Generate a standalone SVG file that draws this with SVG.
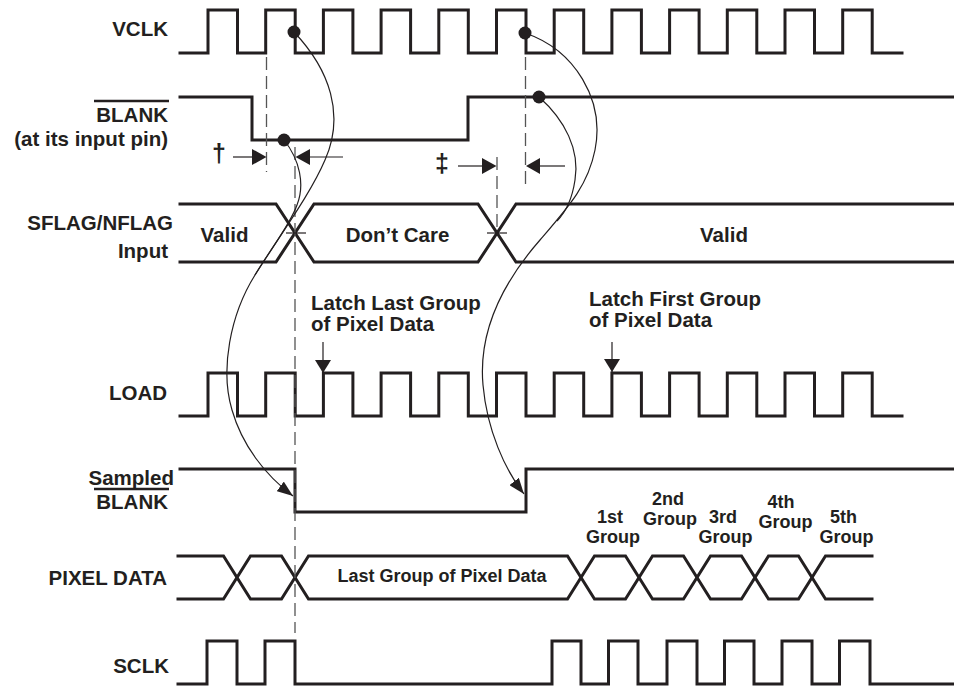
<svg xmlns="http://www.w3.org/2000/svg" xmlns:xlink="http://www.w3.org/1999/xlink" width="954" height="686" viewBox="0 0 954 686">
<style>
.sig{fill:none;stroke:#231f20;stroke-width:3;stroke-linejoin:miter;stroke-linecap:square}
.lbl{font-family:"Liberation Sans",Arial,sans-serif;font-weight:bold;font-size:20.5px;fill:#231f20}
.sm{font-size:18px}
.dg{font-size:25px}
.dash{fill:none;stroke:#555;stroke-width:1.3;stroke-dasharray:13 6}
.thin{fill:none;stroke:#231f20;stroke-width:1.2}
.dot{fill:#231f20}
.head{fill:#231f20;stroke:none}
</style>
<defs>
<path id="clk" d="M180,53 H208 V10 H237.5 V53 H265.7 V10 H295.2 V53 H323.4 V10 H352.9 V53 H381.1 V10 H410.6 V53 H438.8 V10 H468.3 V53 H496.5 V10 H526 V53 H554.2 V10 H583.7 V53 H611.9 V10 H641.4 V53 H669.6 V10 H699.1 V53 H727.3 V10 H756.8 V53 H785 V10 H814.5 V53 H842.7 V10 H872.2 V53 H902"/>
<marker id="ah" markerUnits="userSpaceOnUse" viewBox="0 0 16 12" refX="16" refY="6" markerWidth="16" markerHeight="12" orient="auto">
<path d="M0,0 L16,6 L0,12 z" fill="#231f20"/>
</marker>
<marker id="ah2" markerUnits="userSpaceOnUse" viewBox="0 0 13 16" refX="13" refY="8" markerWidth="13" markerHeight="16" orient="auto">
<path d="M0,0 L13,8 L0,16 z" fill="#231f20"/>
</marker>
</defs>

<g id="vclk">
<text class="lbl" x="168" y="36" text-anchor="end">VCLK</text>
<use xlink:href="#clk" class="sig"/>
</g>

<g id="blank">
<text class="lbl" x="168" y="122" text-anchor="end">BLANK</text>
<line x1="94" y1="101" x2="169" y2="101" stroke="#231f20" stroke-width="2.5"/>
<text class="lbl" x="168" y="146" text-anchor="end">(at its input pin)</text>
<path class="sig" d="M180,97 H252 V140 H468 V97 H954"/>
</g>

<g id="sflag">
<text class="lbl" x="173" y="230" text-anchor="end">SFLAG/NFLAG</text>
<text class="lbl" x="168" y="258" text-anchor="end">Input</text>
<path class="sig" d="M180,204 H276 L314,262 H478 L516,204 H954"/>
<path class="sig" d="M180,262 H276 L314,204 H478 L516,262 H954"/>
<text class="lbl" x="224.5" y="242" text-anchor="middle">Valid</text>
<text class="lbl" x="397.5" y="242" text-anchor="middle">Don’t Care</text>
<text class="lbl" x="724" y="242" text-anchor="middle">Valid</text>
</g>

<g id="load">
<text class="lbl" x="167" y="400" text-anchor="end">LOAD</text>
<use xlink:href="#clk" class="sig" y="363"/>
</g>

<g id="sampled-blank">
<text class="lbl" x="174" y="485" text-anchor="end">Sampled</text>
<line x1="94" y1="489" x2="169" y2="489" stroke="#231f20" stroke-width="2.5"/>
<text class="lbl" x="168" y="509" text-anchor="end">BLANK</text>
<path class="sig" d="M180,469 H295 V512 H526 V469 H954"/>
</g>

<g id="pixel-data">
<text class="lbl" x="167" y="585" text-anchor="end">PIXEL DATA</text>
<path class="sig" d="M178,556 H223.5 L250.5,599 H281.5 L308.5,556 H567.5 L594.5,599 H625.5 L652.5,556 H683.5 L710.5,599 H741.5 L768.5,556 H798.5 L825.5,599 H872"/>
<path class="sig" d="M178,599 H223.5 L250.5,556 H281.5 L308.5,599 H567.5 L594.5,556 H625.5 L652.5,599 H683.5 L710.5,556 H741.5 L768.5,599 H798.5 L825.5,556 H872"/>
<text class="lbl sm" x="442" y="582" text-anchor="middle">Last Group of Pixel Data</text>
<text class="lbl sm" x="610" y="523" text-anchor="middle">1st</text>
<text class="lbl sm" x="613" y="543" text-anchor="middle">Group</text>
<text class="lbl sm" x="668" y="505" text-anchor="middle">2nd</text>
<text class="lbl sm" x="670" y="525" text-anchor="middle">Group</text>
<text class="lbl sm" x="723" y="523" text-anchor="middle">3rd</text>
<text class="lbl sm" x="725.5" y="543" text-anchor="middle">Group</text>
<text class="lbl sm" x="781" y="508" text-anchor="middle">4th</text>
<text class="lbl sm" x="785.5" y="528" text-anchor="middle">Group</text>
<text class="lbl sm" x="843.5" y="523" text-anchor="middle">5th</text>
<text class="lbl sm" x="846.5" y="543" text-anchor="middle">Group</text>
</g>

<g id="sclk">
<text class="lbl" x="169" y="673" text-anchor="end">SCLK</text>
<path class="sig" d="M178,684 H207 V641 H237 V684 H265 V641 H295 V684 H552 V641 H581 V684 H608.5 V641 H638 V684 H667 V641 H697 V684 H724.5 V641 H754 V684 H782 V641 H812 V684 H839.5 V641 H870 V684 H954"/>
</g>

<g id="latch-labels">
<text class="lbl" x="311" y="310">Latch Last Group</text>
<text class="lbl" x="311" y="331">of Pixel Data</text>
<text class="lbl" x="589" y="306">Latch First Group</text>
<text class="lbl" x="589" y="327">of Pixel Data</text>
</g>

<g id="connectors">
<line class="dash" x1="266.5" y1="57" x2="266.5" y2="172"/>
<line class="dash" x1="295" y1="147" x2="295" y2="633"/>
<line class="dash" x1="497" y1="157" x2="497" y2="233"/>
<line class="dash" x1="525.5" y1="57" x2="525.5" y2="185"/>
<line class="thin" x1="286" y1="233" x2="306" y2="233"/>
<line class="thin" x1="487" y1="233" x2="507" y2="233"/>
<text class="lbl dg" x="219" y="162" text-anchor="middle">†</text>
<line class="thin" x1="233" y1="157" x2="253" y2="157"/>
<path class="head" d="M252,149 L266.5,157 L252,165 z"/>
<line class="thin" x1="309" y1="157" x2="343" y2="157"/>
<path class="head" d="M310,149 L295.5,157 L310,165 z"/>
<text class="lbl dg" x="442" y="172" text-anchor="middle">‡</text>
<line class="thin" x1="458" y1="166" x2="483" y2="166"/>
<path class="head" d="M482,158 L496.5,166 L482,174 z"/>
<line class="thin" x1="539" y1="166" x2="565" y2="166"/>
<path class="head" d="M540,158 L526,166 L540,174 z"/>
<path class="thin" d="M294,32 C330,70 345,115 325,160 C310,195 280,235 255,275 C230,315 220,370 232,410 C242,445 265,475 293,496" marker-end="url(#ah)"/>
<path class="thin" d="M284,140 C300,160 305,185 297,205 C290,225 270,250 255,275"/>
<path class="thin" d="M525,33 C575,50 605,100 595,150 C588,185 570,205 540,240 C505,280 478,330 483,385 C487,430 505,470 524,494" marker-end="url(#ah)"/>
<path class="thin" d="M539,97 C565,120 580,150 575,180 C572,200 566,212 557,221"/>
<line class="thin" x1="323" y1="342" x2="323" y2="373" marker-end="url(#ah2)"/>
<line class="thin" x1="612" y1="342" x2="612" y2="372" marker-end="url(#ah2)"/>
<circle class="dot" cx="294" cy="32" r="6.5"/>
<circle class="dot" cx="284" cy="140" r="6.5"/>
<circle class="dot" cx="525" cy="33" r="6.5"/>
<circle class="dot" cx="539" cy="97" r="6.5"/>
</g>
</svg>
